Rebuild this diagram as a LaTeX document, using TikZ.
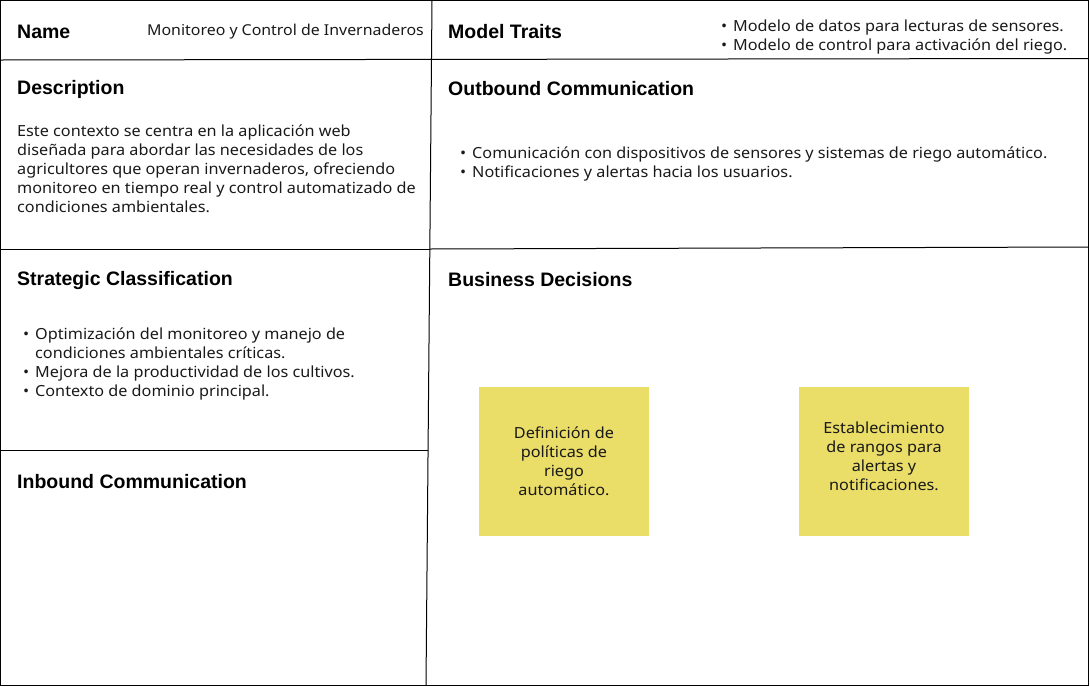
\documentclass[tikz,border=0pt]{standalone}
\usepackage{fontspec}
\setmainfont[FakeStretch=1.06]{Noto Sans}
\newfontfamily\headfont{Liberation Sans}
\definecolor{sticky}{RGB}{234,221,104}
\definecolor{txt}{RGB}{25,25,25}
\tikzset{
  frame/.style={draw=black, line width=1pt},
  heading/.style={anchor=west, inner sep=0pt, font=\headfont\bfseries\fontsize{19.5}{22}\selectfont, text=black},
  body/.style={anchor=north west, inner sep=0pt, align=left, font=\fontsize{15.3}{19}\selectfont, text=txt},
  plain/.style={anchor=west, inner sep=0pt, font=\fontsize{15.0}{19}\selectfont, text=txt},
  note/.style={draw=none, fill=sticky, minimum width=170pt, minimum height=149pt, inner sep=0pt},
  notetext/.style={inner sep=0pt, align=center, font=\fontsize{15.3}{19}\selectfont, text=txt}
}
\newcommand{\bul}{\makebox[12pt][l]{•}}
\newcommand{\nobul}{\makebox[12pt][l]{}}
\begin{document}
\begin{tikzpicture}[x=1pt,y=-1pt]
\useasboundingbox (0,0) rectangle (1090,686);
% outer frame
\draw[frame] (0.5,0.5) rectangle (1088,685);
% grid lines
\coordinate (vt) at (432,0.5);
\coordinate (vb) at (426,685);
\draw[frame] (vt) -- (vb);
\draw[frame] (0.5,60) -- (1088,58.5);
\draw[frame] (0.5,249.5) -- (429.8,249.5);
\draw[frame] (429.8,249) -- (1088,247);
\draw[frame] (0.5,450.5) -- (428,450.5);

% headings
\node[heading] (hname) at (17,32) {Name};
\node[plain] (vname) at (147,31.5) {Monitoreo y Control de Invernaderos};
\node[heading] (htraits) at (448,32) {Model Traits};
\node[body] (traits) at (721,20) {\bul Modelo de datos para lecturas de sensores.\\ \bul Modelo de control para activación del riego.};
\node[heading] (hdesc) at (17,89) {Description};
\node[body] (desc) at (17,125) {Este contexto se centra en la aplicación web\\ diseñada para abordar las necesidades de los\\ agricultores que operan invernaderos, ofreciendo\\ monitoreo en tiempo real y control automatizado de\\ condiciones ambientales.};
\node[heading] (hout) at (448,89) {Outbound Communication};
\node[body] (out) at (460,147) {\bul Comunicación con dispositivos de sensores y sistemas de riego automático.\\ \bul Notificaciones y alertas hacia los usuarios.};
\node[heading] (hstrat) at (17,280) {Strategic Classification};
\node[body] (strat) at (23,328) {\bul Optimización del monitoreo y manejo de\\ \nobul condiciones ambientales críticas.\\ \bul Mejora de la productividad de los cultivos.\\ \bul Contexto de dominio principal.};
\node[heading] (hin) at (17,482) {Inbound Communication};
\node[heading] (hbus) at (448,280) {Business Decisions};
\node[note] (n1) at (564,461.5) {};
\node[notetext] (t1) at (n1.center) {Definición de\\ políticas de\\ riego\\ automático.};
\node[note] (n2) at (884,461.5) {};
\node[notetext, yshift=5pt] (t2) at (n2.center) {Establecimiento\\ de rangos para\\ alertas y\\ notificaciones.};
\end{tikzpicture}
\end{document}
